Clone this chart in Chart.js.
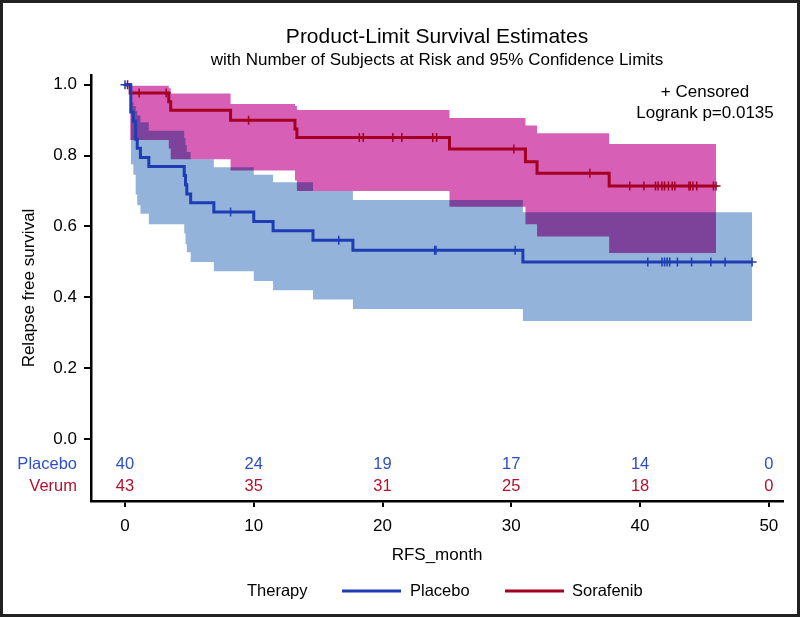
<!DOCTYPE html>
<html>
<head>
<meta charset="utf-8">
<script src="https://cdn.jsdelivr.net/npm/chart.js@4.4.1/dist/chart.umd.min.js"></script>
<style>
  body { margin: 0; background: #fff; }
  canvas { display: block; }
</style>
</head>
<body>
<canvas id="kmChart" width="800" height="617"></canvas>
<script>
// Placebo arm: Kaplan-Meier steps (months, survival) and 95% limits
var placeboTime = [0, 0.45, 0.65, 0.83, 0.95, 1.2, 1.85, 4.6, 4.7, 4.8, 5.1, 6.9, 10.0, 11.5, 14.6, 17.7, 30.9, 48.7];
var placeboSurv = [1.0, 0.923, 0.897, 0.846, 0.821, 0.795, 0.769, 0.744, 0.718, 0.692, 0.667, 0.641, 0.614, 0.588, 0.561, 0.533, 0.50, 0.50];
var placeboUpper = [0.95, 0.94, 0.925, 0.913, 0.894, 0.87, 0.85, 0.83, 0.81, 0.79, 0.767, 0.746, 0.725, 0.70, 0.675, 0.64, 0.64];
var placeboLower = [0.776, 0.746, 0.69, 0.66, 0.636, 0.606, 0.58, 0.55, 0.527, 0.50, 0.474, 0.446, 0.42, 0.394, 0.367, 0.333, 0.333];
var placeboCensorTime = [0, 8.2, 16.6, 24.05, 24.15, 30.3, 40.6, 41.7, 41.9, 42.1, 42.3, 42.9, 44.0, 45.5, 46.6, 48.7];
var placeboCensorSurv = [1.0, 0.641, 0.561, 0.533, 0.533, 0.533, 0.50, 0.50, 0.50, 0.50, 0.50, 0.50, 0.50, 0.50, 0.50, 0.50];

// Sorafenib arm
var sorafTime = [0, 0.4, 3.4, 3.55, 8.2, 13.2, 13.35, 25.2, 31.1, 32.0, 37.6, 45.9];
var sorafSurv = [1.0, 0.977, 0.952, 0.928, 0.90, 0.875, 0.851, 0.819, 0.783, 0.75, 0.714, 0.714];
var sorafUpper = [0.997, 0.99, 0.975, 0.946, 0.94, 0.929, 0.906, 0.885, 0.863, 0.833, 0.833];
var sorafLower = [0.844, 0.82, 0.79, 0.758, 0.73, 0.70, 0.656, 0.606, 0.572, 0.525, 0.525];
var sorafCensorTime = [0.2, 1.1, 3.2, 9.6, 18.2, 18.5, 20.8, 21.5, 23.9, 24.2, 30.2, 36.1, 39.2, 40.3, 41.2, 41.4, 41.7, 41.9, 42.2, 42.5, 42.7, 43.8, 43.9, 44.1, 44.4, 45.7, 45.9];
var sorafCensorSurv = [1.0, 0.977, 0.977, 0.90, 0.851, 0.851, 0.851, 0.851, 0.851, 0.851, 0.819, 0.75, 0.714, 0.714, 0.714, 0.714, 0.714, 0.714, 0.714, 0.714, 0.714, 0.714, 0.714, 0.714, 0.714, 0.714, 0.714];

// Number at risk table
var riskTimes = [0, 10, 20, 30, 40, 50];
var placeboAtRisk = [40, 24, 19, 17, 14, 0];
var verumAtRisk = [43, 35, 31, 25, 18, 0];

var blueLine = "#1E3CB4";
var redLine = "#A30022";
var blueText = "#2D4FC2";
var redText = "#B3122F";
var FONT = "'Liberation Sans', Arial, sans-serif";

function pts(xs, ys) {
  return ys.map(function (y, i) { return { x: xs[i], y: y }; });
}

var datasets = [
  { label: "Placebo", data: pts(placeboTime, placeboSurv), borderColor: blueLine, borderWidth: 3, stepped: "before", pointRadius: 0, fill: false },
  { label: "Sorafenib", data: pts(sorafTime, sorafSurv), borderColor: redLine, borderWidth: 3, stepped: "before", pointRadius: 0, fill: false },
  { label: "Placebo censored", data: pts(placeboCensorTime, placeboCensorSurv), showLine: false, pointStyle: "cross", pointRadius: 4.5, pointBorderWidth: 1.5, pointBorderColor: blueLine },
  { label: "Sorafenib censored", data: pts(sorafCensorTime, sorafCensorSurv), showLine: false, pointStyle: "cross", pointRadius: 4.5, pointBorderWidth: 1.5, pointBorderColor: redLine },
  { label: "Placebo upper", isBand: true, data: pts(placeboTime.slice(1), placeboUpper), borderWidth: 0, stepped: "before", pointRadius: 0, backgroundColor: "#93B3DA", fill: "+1" },
  { label: "Placebo lower", isBand: true, data: pts(placeboTime.slice(1), placeboLower), borderWidth: 0, stepped: "before", pointRadius: 0, fill: false },
  { label: "Sorafenib upper", isBand: true, data: pts(sorafTime.slice(1), sorafUpper), borderWidth: 0, stepped: "before", pointRadius: 0, backgroundColor: "#D85FB6", fill: "+1" },
  { label: "Sorafenib lower", isBand: true, data: pts(sorafTime.slice(1), sorafLower), borderWidth: 0, stepped: "before", pointRadius: 0, fill: false }
];

// extra text, legend, frame; bands multiplied so the overlap turns purple
var decor = {
  id: "decor",
  beforeDraw: function (chart) {
    var c = chart.ctx;
    c.save();
    c.fillStyle = "#fff";
    c.fillRect(0, 0, chart.width, chart.height);
    c.restore();
  },
  beforeDatasetsDraw: function (chart) {
    chart.ctx.globalCompositeOperation = "multiply";
  },
  beforeDatasetDraw: function (chart, args) {
    if (!chart.data.datasets[args.index].isBand) chart.ctx.globalCompositeOperation = "source-over";
  },
  afterDatasetsDraw: function (chart) {
    chart.ctx.globalCompositeOperation = "source-over";
  },
  afterDraw: function (chart) {
    var c = chart.ctx;
    var xs = chart.scales.x;
    var area = chart.chartArea;
    var mid = (area.left + area.right) / 2;
    var bottom = area.bottom;
    c.save();
    c.textBaseline = "middle";
    c.fillStyle = "#000";

    c.textAlign = "center";
    c.font = "21px " + FONT;
    c.fillText("Product-Limit Survival Estimates", mid, 37);
    c.font = "17px " + FONT;
    c.fillText("with Number of Subjects at Risk and 95% Confidence Limits", mid, 60);

    c.font = "17px " + FONT;
    c.fillText("+ Censored", 705, 92);
    c.fillText("Logrank p=0.0135", 705, 113);

    // at-risk rows
    c.font = "16.5px " + FONT;
    c.textAlign = "right";
    c.fillStyle = blueText;
    c.fillText("Placebo", 77, bottom - 37);
    c.fillStyle = redText;
    c.fillText("Verum", 77, bottom - 15);
    c.textAlign = "center";
    riskTimes.forEach(function (t, i) {
      var px = xs.getPixelForValue(t);
      c.fillStyle = blueText;
      c.fillText(String(placeboAtRisk[i]), px, bottom - 37);
      c.fillStyle = redText;
      c.fillText(String(verumAtRisk[i]), px, bottom - 15);
    });

    // legend
    c.fillStyle = "#000";
    c.textAlign = "left";
    c.fillText("Therapy", 247, 591);
    c.lineWidth = 3;
    c.strokeStyle = blueLine;
    c.beginPath(); c.moveTo(342, 591); c.lineTo(401, 591); c.stroke();
    c.fillText("Placebo", 410, 591);
    c.strokeStyle = redLine;
    c.beginPath(); c.moveTo(505, 591); c.lineTo(564, 591); c.stroke();
    c.fillText("Sorafenib", 572, 591);

    // outer frame
    c.strokeStyle = "#222";
    c.lineWidth = 3;
    c.strokeRect(1.5, 1.5, chart.width - 3, chart.height - 3);
    c.restore();
  }
};

Chart.defaults.font.family = FONT;
Chart.defaults.font.size = 17;
Chart.defaults.color = "#000";

var ctx = document.getElementById("kmChart").getContext("2d");

var config = {
  type: "line",
  data: { datasets: datasets },
  plugins: [decor],
  options: {
    responsive: false,
    animation: false,
    devicePixelRatio: 1,
    layout: { padding: { top: 75, right: 17, left: 0, bottom: 0 } },
    plugins: {
      legend: { display: false },
      title: { display: false },
      tooltip: { enabled: false }
    },
    scales: {
      x: {
        type: "linear",
        min: -2.64,
        max: 51.1,
        afterFit: function (scale) { scale.height = 116; },
        border: { color: "#000", width: 2.5 },
        grid: { drawOnChartArea: false, tickLength: 6, lineWidth: 2, color: "#000" },
        ticks: { stepSize: 10, includeBounds: false, padding: 9 },
        title: { display: true, text: "RFS_month", font: { size: 17 }, padding: { top: 0, bottom: 51 } }
      },
      y: {
        min: -0.1746,
        max: 1.0275,
        afterFit: function (scale) { scale.width = 91; },
        border: { color: "#000", width: 2.5 },
        grid: { drawOnChartArea: false, tickLength: 7, lineWidth: 2, color: "#000" },
        ticks: {
          stepSize: 0.2,
          includeBounds: false,
          padding: 7,
          callback: function (v) { return Math.abs(v).toFixed(1); }
        },
        title: { display: true, text: "Relapse free survival", font: { size: 17 }, padding: { top: 19, bottom: 0 } }
      }
    }
  }
};

var kmChart = new Chart(ctx, config);
</script>
</body>
</html>
